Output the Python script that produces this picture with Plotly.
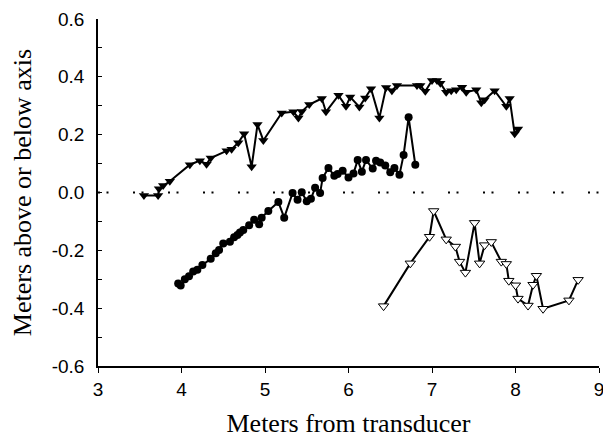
import plotly.graph_objects as go

# Upper series (filled down-triangles)
top_x = [3.55, 3.72, 3.73, 3.78, 3.86, 4.10, 4.22, 4.30, 4.35, 4.54, 4.60, 4.68, 4.75, 4.84,
         4.91, 4.98, 5.20, 5.34, 5.40, 5.44, 5.53, 5.68, 5.73, 5.88, 5.97, 6.02, 6.13, 6.20,
         6.27, 6.37, 6.45, 6.52, 6.58, 6.82, 6.86, 6.92, 7.00, 7.06, 7.10, 7.17, 7.23, 7.29,
         7.36, 7.41, 7.53, 7.59, 7.63, 7.75, 7.89, 7.93, 7.99, 8.03]
top_y = [-0.01, -0.01, 0.013, 0.024, 0.039, 0.096, 0.11, 0.098, 0.119, 0.144, 0.15, 0.172,
         0.203, 0.089, 0.235, 0.18, 0.275, 0.279, 0.258, 0.28, 0.304, 0.325, 0.279, 0.336,
         0.298, 0.33, 0.296, 0.327, 0.359, 0.258, 0.363, 0.352, 0.37, 0.37, 0.37, 0.35,
         0.387, 0.387, 0.378, 0.347, 0.352, 0.355, 0.364, 0.347, 0.355, 0.31, 0.321, 0.352,
         0.298, 0.325, 0.203, 0.22]

# Middle series (filled circles)
mid_x = [3.96, 3.99, 4.04, 4.09, 4.14, 4.19, 4.25, 4.35, 4.41, 4.45, 4.50, 4.58, 4.63, 4.67,
         4.70, 4.74, 4.81, 4.87, 4.93, 4.96, 5.04, 5.16, 5.23, 5.33, 5.39, 5.44, 5.50, 5.55,
         5.60, 5.66, 5.69, 5.76, 5.83, 5.87, 5.93, 6.00, 6.06, 6.11, 6.16, 6.21, 6.29, 6.33,
         6.38, 6.44, 6.50, 6.55, 6.61, 6.66, 6.72, 6.80]
mid_y = [-0.315, -0.322, -0.30, -0.29, -0.273, -0.267, -0.251, -0.229, -0.21, -0.199, -0.176,
         -0.17, -0.155, -0.147, -0.138, -0.13, -0.113, -0.094, -0.11, -0.087, -0.064, -0.033,
         -0.087, -0.002, -0.025, 0.001, -0.03, -0.022, 0.016, -0.002, 0.05, 0.085, 0.058,
         0.064, 0.075, 0.052, 0.066, 0.112, 0.072, 0.112, 0.083, 0.11, 0.104, 0.093, 0.07,
         0.085, 0.061, 0.13, 0.26, 0.096]

# Lower series (open down-triangles)
low_x = [6.42, 6.74, 6.97, 7.02, 7.17, 7.28, 7.33, 7.40, 7.51, 7.57, 7.63, 7.71, 7.83, 7.89,
         7.92, 8.00, 8.03, 8.15, 8.21, 8.25, 8.33, 8.64, 8.75]
low_y = [-0.393, -0.245, -0.153, -0.064, -0.162, -0.187, -0.239, -0.277, -0.105, -0.245,
         -0.182, -0.171, -0.239, -0.247, -0.305, -0.321, -0.367, -0.391, -0.319, -0.288,
         -0.402, -0.373, -0.302]

# Reference axis (dotted line at 0)
axis_x = [3, 9]
axis_y = [0, 0]

# Tick labels
y_tick_vals = [-0.6, -0.4, -0.2, 0.0, 0.2, 0.4, 0.6]
y_tick_text = ["-0.6", "-0.4", "-0.2", "0.0", "0.2", "0.4", "0.6"]
x_tick_vals = [3, 4, 5, 6, 7, 8, 9]
x_tick_text = ["3", "4", "5", "6", "7", "8", "9"]

fig = go.Figure()
fig.add_trace(go.Scatter(x=axis_x, y=axis_y, mode="lines",
                         line=dict(color="black", width=2, dash="2px,6.5px,2px,24.5px"),
                         hoverinfo="skip"))
fig.add_trace(go.Scatter(x=top_x, y=top_y, mode="lines+markers",
                         line=dict(color="black", width=2),
                         marker=dict(symbol="triangle-down", size=9, color="black")))
fig.add_trace(go.Scatter(x=mid_x, y=mid_y, mode="lines+markers",
                         line=dict(color="black", width=2),
                         marker=dict(symbol="circle", size=8, color="black")))
fig.add_trace(go.Scatter(x=low_x, y=low_y, mode="lines+markers",
                         line=dict(color="black", width=2),
                         marker=dict(symbol="triangle-down", size=9, color="white",
                                     line=dict(color="black", width=1))))

fig.update_layout(
    width=603, height=434,
    margin=dict(l=90, r=12, t=11, b=76),
    paper_bgcolor="white", plot_bgcolor="white",
    showlegend=False,
    font=dict(family="Liberation Sans, Arial", color="black", size=19),
)
fig.update_xaxes(
    range=[3, 9], tickvals=x_tick_vals, ticktext=x_tick_text,
    showline=True, linecolor="black", linewidth=1.5,
    ticks="outside", ticklen=5, tickcolor="black", tickwidth=1,
    showgrid=False, zeroline=False, automargin=False,
    tickfont=dict(family="Liberation Sans, Arial", size=19),
    title=dict(text="Meters from transducer",
               font=dict(family="Liberation Serif, Times New Roman", size=26)),
)
fig.update_yaxes(
    range=[-0.6, 0.6], tickvals=y_tick_vals, ticktext=y_tick_text,
    showline=True, linecolor="black", linewidth=1.5,
    ticks="inside", ticklen=4, tickcolor="black", tickwidth=1,
    minor=dict(dtick=0.1, tick0=0, ticks="inside", ticklen=4, tickcolor="black", tickwidth=1),
    showgrid=False, zeroline=False, automargin=False,
    ticklabelstandoff=8,
    tickfont=dict(family="Liberation Sans, Arial", size=19),
    title=dict(text="Meters above or below axis",
               font=dict(family="Liberation Serif, Times New Roman", size=26)),
)

fig.write_html("out.html")
